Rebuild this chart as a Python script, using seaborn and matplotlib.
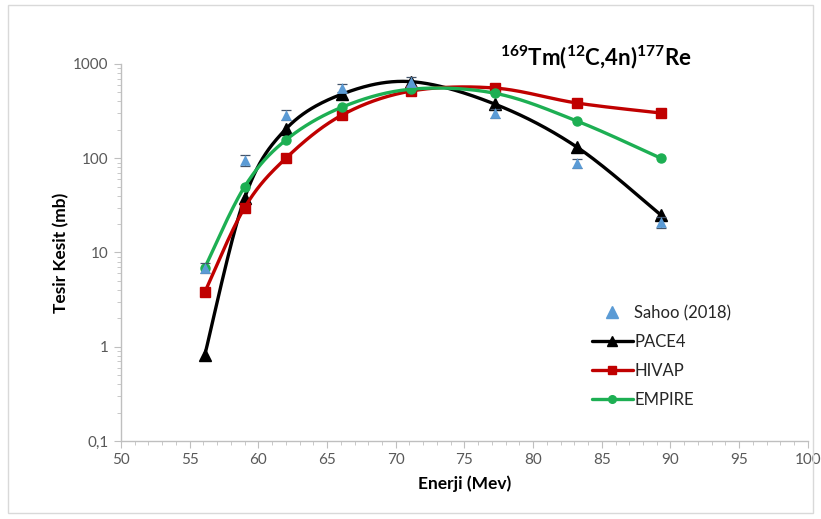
import numpy as np
import pandas as pd
import matplotlib
matplotlib.use("Agg")
import matplotlib.pyplot as plt
import seaborn as sns
from matplotlib.ticker import FixedLocator, MultipleLocator, LogLocator, NullFormatter

# ---- data ----
energy = [56.1, 59.0, 62.0, 66.1, 71.1, 77.2, 83.2, 89.3]
sahoo = [6.9, 95, 290, 560, 650, 300, 89, 21]
sahoo_err = [0.8, 12, 35, 60, 70, 35, 10, 3]
pace4 = [0.82, 38, 204, 480, 650, 376, 131, 25]
hivap = [3.8, 30, 100, 288, 516, 556, 385, 302]
empire = [6.9, 50, 156, 349, 540, 490, 248, 100]
x_ticks = [50, 55, 60, 65, 70, 75, 80, 85, 90, 95, 100]
y_ticks = [0.1, 1, 10, 100, 1000]
y_tick_labels = ["0,1", "1", "10", "100", "1000"]

sns.set_theme(style="white")
plt.rcParams['font.family'] = ['Lato', 'DejaVu Sans']
plt.rcParams['mathtext.fontset'] = 'custom'
plt.rcParams['mathtext.bf'] = 'Lato:bold'
plt.rcParams['mathtext.rm'] = 'Lato'
plt.rcParams['mathtext.it'] = 'Lato:italic'


def smooth(xs, ys, n=40):
    # Excel-like smoothed line (cubic Bezier, Catmull-Rom control points) in screen-like space
    sx, sy = 13.74, 94.25
    P = np.column_stack([np.asarray(xs) * sx, np.log10(ys) * sy])
    out = []
    for i in range(len(P) - 1):
        p0 = P[i - 1] if i > 0 else P[i]
        p1, p2 = P[i], P[i + 1]
        p3 = P[i + 2] if i + 2 < len(P) else P[i + 1]
        c1 = p1 + (p2 - p0) / 6.0
        c2 = p2 - (p3 - p1) / 6.0
        t = np.linspace(0, 1, n)[:, None]
        seg = (1 - t) ** 3 * p1 + 3 * (1 - t) ** 2 * t * c1 + 3 * (1 - t) * t ** 2 * c2 + t ** 3 * p2
        out.append(seg if i == 0 else seg[1:])
    A = np.vstack(out)
    return A[:, 0] / sx, 10 ** (A[:, 1] / sy)


fig = plt.figure(figsize=(8.21, 5.19), dpi=100)
ax = fig.add_axes([0.1474, 0.1503, 0.8366, 0.7264])

series = [("PACE4", pace4, "black", "^", 8),
          ("HIVAP", hivap, "#C00000", "s", 7),
          ("EMPIRE", empire, "#1DAF53", "o", 6.5)]

handles = []
for name, vals, col, mk, ms in series:
    sxv, syv = smooth(energy, vals)
    df_line = pd.DataFrame({"x": sxv, "y": syv})
    sns.lineplot(data=df_line, x="x", y="y", ax=ax, color=col, lw=2.4, sort=False,
                 estimator=None, legend=False)
    ax.plot(energy, vals, ls="none", marker=mk, ms=ms, color=col, mec=col)
    h, = ax.plot([], [], color=col, lw=2.4, marker=mk, ms=ms - 1, mec=col)
    handles.append((h, name))

sahoo_col = "#5B9BD5"
df_s = pd.DataFrame({"x": energy, "y": sahoo, "e": sahoo_err})
ax.errorbar(df_s["x"], df_s["y"], yerr=df_s["e"], fmt="none", ecolor="#44546A",
            elinewidth=0.8, capsize=3.5, capthick=0.9, zorder=4)
sns.scatterplot(data=df_s, x="x", y="y", ax=ax, marker="^", s=60, color=sahoo_col,
                edgecolor=sahoo_col, linewidth=0, zorder=5, legend=False)
hs, = ax.plot([], [], ls="none", marker="^", ms=8, color=sahoo_col, mec=sahoo_col)

ax.set_yscale("log")
ax.set_xlim(50, 100)
ax.set_ylim(0.1, 1000)
ax.xaxis.set_major_locator(FixedLocator(x_ticks))
ax.xaxis.set_minor_locator(MultipleLocator(1))
ax.set_yticks(y_ticks)
ax.set_yticklabels(y_tick_labels)
ax.yaxis.set_minor_locator(LogLocator(base=10, subs=np.arange(2, 10)))
ax.yaxis.set_minor_formatter(NullFormatter())

for s in ["top", "right"]:
    ax.spines[s].set_visible(False)
for s in ["left", "bottom"]:
    ax.spines[s].set_color("#BFBFBF")
    ax.spines[s].set_linewidth(1.0)
ax.tick_params(axis="both", which="major", direction="out", length=5, width=0.8,
               color="#BFBFBF", labelcolor="#595959", labelsize=11, pad=4,
               bottom=True, left=True)
ax.tick_params(axis="both", which="minor", direction="out", length=3, width=0.6,
               color="#BFBFBF", bottom=True, left=True)

ax.set_xlabel("Enerji (Mev)", fontsize=12.5, fontweight="bold", color="black", labelpad=6)
ax.set_ylabel("Tesir Kesit (mb)", fontsize=12.5, fontweight="bold", color="black", labelpad=3)

fig.text(0.726, 0.89, r"$\mathbf{^{169}Tm(^{12}C{,}4n)^{177}Re}$", fontsize=16,
         ha="center", va="center", color="black")

leg = ax.legend([hs] + [h for h, _ in handles], ["Sahoo (2018)"] + [n for _, n in handles],
                loc="upper left", bbox_to_anchor=(0.673, 0.383), frameon=False, fontsize=12,
                handlelength=2.5, handletextpad=0.05, labelspacing=0.78, borderpad=0)
for t in leg.get_texts():
    t.set_color("#262626")

# light frame of the chart area
fig.patches.append(plt.Rectangle((0.010, 0.012), 0.980, 0.978, transform=fig.transFigure,
                                 fill=False, ec="#D9D9D9", lw=1.0))

fig.savefig("out.png", dpi=100)
